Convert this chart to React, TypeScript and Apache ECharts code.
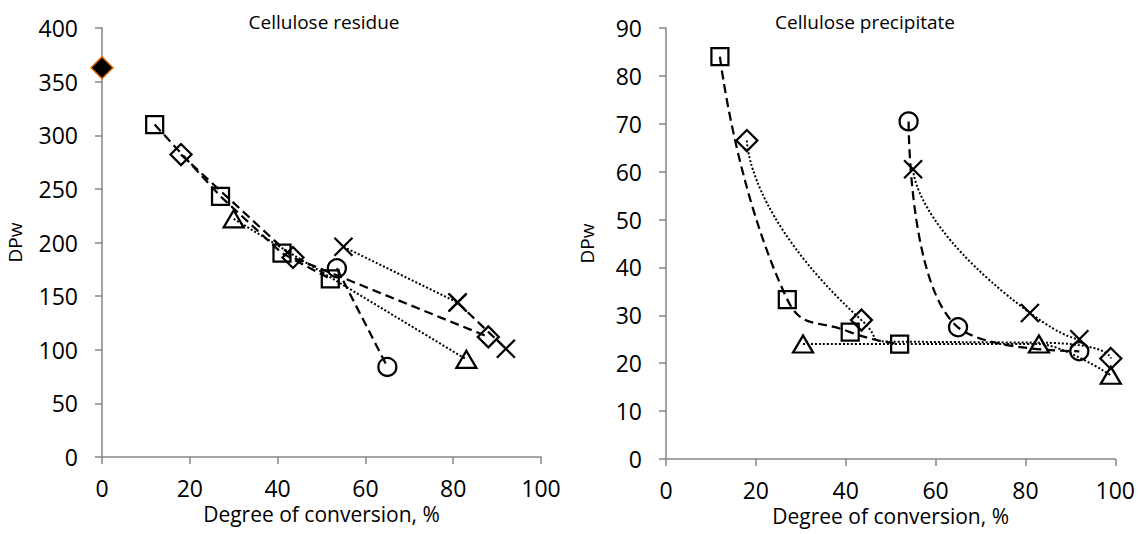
import React, { useEffect, useRef } from "react";
import * as echarts from "echarts";

// ---------- data ----------
const leftTitle = "Cellulose residue";
const rightTitle = "Cellulose precipitate";
const xName = "Degree of conversion, %";
const yName = "DPw";

// Left panel: Cellulose residue
const leftStart = [[0, 363]];
const leftSquares = [[12, 310], [27, 243], [41, 190], [52, 166]];
const leftDiamonds = [[18, 282], [43.5, 186], [88, 112]];
const leftTriangles = [[30, 222], [83, 91]];
const leftCircles = [[53.5, 176], [65, 84]];
const leftCrossDotted = [[55, 196], [81, 144]];
const leftCrossDashed = [[81, 144], [92, 101]];

// Right panel: Cellulose precipitate
const rightSquares = [[12, 84], [27, 33.3], [41, 26.5], [52, 24]];
const rightDiamonds = [[18, 66.5], [43.5, 29], [99, 21]];
const rightDiamondPathPoints = [[52, 24.5], [83, 24.3]]; // line passes here, no marker
const rightTriangles = [[30.5, 24], [83, 24], [99, 17.5]];
const rightCircles = [[54, 70.5], [65, 27.5], [92, 22.5]];
const rightCrosses = [[55, 60.5], [81, 30.5], [92, 25]];

const FONT = "Open Sans";
const AXIS_GRAY = "#868686";
const CROSS = "path://M0,0L10,10M10,0L0,10";
const DASHED = [9, 5];
const DOTTED = [2, 2];

function mk(
  data: any[],
  symbol: string,
  size: number | number[],
  dash: any,
  smooth: boolean | number,
  grid: number,
  width = 2.25
) {
  return {
    type: "line",
    xAxisIndex: grid,
    yAxisIndex: grid,
    data,
    symbol,
    symbolSize: size,
    smooth,
    showSymbol: true,
    lineStyle: { color: "#000", width: dash === "none" ? 0 : width, type: dash === "none" ? "solid" : dash, opacity: dash === "none" ? 0 : 1 },
    itemStyle: { color: "rgba(0,0,0,0)", borderColor: "#000", borderWidth: 2.25 },
    emphasis: { disabled: true },
    z: 3,
  };
}

function xAxis(grid: number) {
  return {
    type: "value",
    gridIndex: grid,
    min: 0,
    max: 100,
    interval: 20,
    axisLine: { show: true, onZero: false, lineStyle: { color: AXIS_GRAY, width: 1.5 } },
    axisTick: { show: true, length: 7, lineStyle: { color: AXIS_GRAY, width: 1.5 } },
    splitLine: { show: false },
    axisLabel: { fontSize: 23, color: "#000", fontFamily: FONT, margin: 19 },
    name: xName,
    nameLocation: "middle",
    nameGap: 36,
    nameTextStyle: { fontSize: 21, color: "#000", fontFamily: FONT },
  };
}

function yAxis(grid: number, max: number, interval: number, gap: number) {
  return {
    type: "value",
    gridIndex: grid,
    min: 0,
    max,
    interval,
    axisLine: { show: true, onZero: false, lineStyle: { color: AXIS_GRAY, width: 1.5 } },
    axisTick: { show: true, length: 7, lineStyle: { color: AXIS_GRAY, width: 1.5 } },
    splitLine: { show: false },
    axisLabel: { fontSize: 23, color: "#000", fontFamily: FONT, margin: 24 },
    name: yName,
    nameLocation: "middle",
    nameGap: gap,
    nameTextStyle: { fontSize: 19, color: "#000", fontFamily: FONT },
  };
}

export default function App() {
  const ref = useRef<HTMLDivElement>(null);
  useEffect(() => {
    if (!ref.current) return;
    const chart = echarts.init(ref.current, null, { renderer: "svg" });

    const diamondLine = [
      rightDiamonds[0],
      rightDiamonds[1],
      ...rightDiamondPathPoints.map((p) => ({ value: p, symbol: "none" })),
      rightDiamonds[2],
    ];

    const option: any = {
      animation: false,
      backgroundColor: "#fff",
      textStyle: { fontFamily: FONT },
      title: [
        { text: leftTitle, left: 319, top: 7, textAlign: "center", textStyle: { fontSize: 19, fontWeight: "normal", color: "#000", fontFamily: FONT } },
        { text: rightTitle, left: 860, top: 7, textAlign: "center", textStyle: { fontSize: 19, fontWeight: "normal", color: "#000", fontFamily: FONT } },
      ],
      grid: [
        { left: 102, right: 597, top: 28, bottom: 77 },
        { left: 666, right: 21, top: 28, bottom: 75 },
      ],
      xAxis: [xAxis(0), xAxis(1)],
      yAxis: [yAxis(0, 400, 50, 78), yAxis(1, 90, 10, 70)],
      series: [
        // left
        {
          ...mk(leftStart, "diamond", 22, "none", false, 0),
          itemStyle: { color: "#000", borderColor: "#E46C0A", borderWidth: 1.5 },
        },
        mk(leftSquares, "rect", 17, DASHED, false, 0),
        mk(leftDiamonds, "diamond", 21, DASHED, false, 0),
        mk(leftTriangles, "triangle", [20, 17], DOTTED, false, 0, 2),
        mk(leftCircles, "circle", 18, DASHED, false, 0),
        mk(leftCrossDotted, CROSS, 18, DOTTED, false, 0, 2),
        mk(leftCrossDashed, CROSS, 18, DASHED, false, 0),
        // right
        mk(rightSquares, "rect", 17, DASHED, 0.5, 1),
        mk(diamondLine, "diamond", 21, DOTTED, 1, 1, 2),
        mk(rightTriangles, "triangle", [20, 17], DOTTED, 0.3, 1, 2),
        mk(rightCircles, "circle", 18, DASHED, 0.6, 1),
        mk(rightCrosses, CROSS, 18, DOTTED, 1, 1, 2),
      ],
    };
    chart.setOption(option);
    return () => chart.dispose();
  }, []);

  return (
    <div
      ref={ref}
      style={{ position: "fixed", left: 0, top: 0, width: 1138, height: 534, background: "#fff" }}
    />
  );
}
